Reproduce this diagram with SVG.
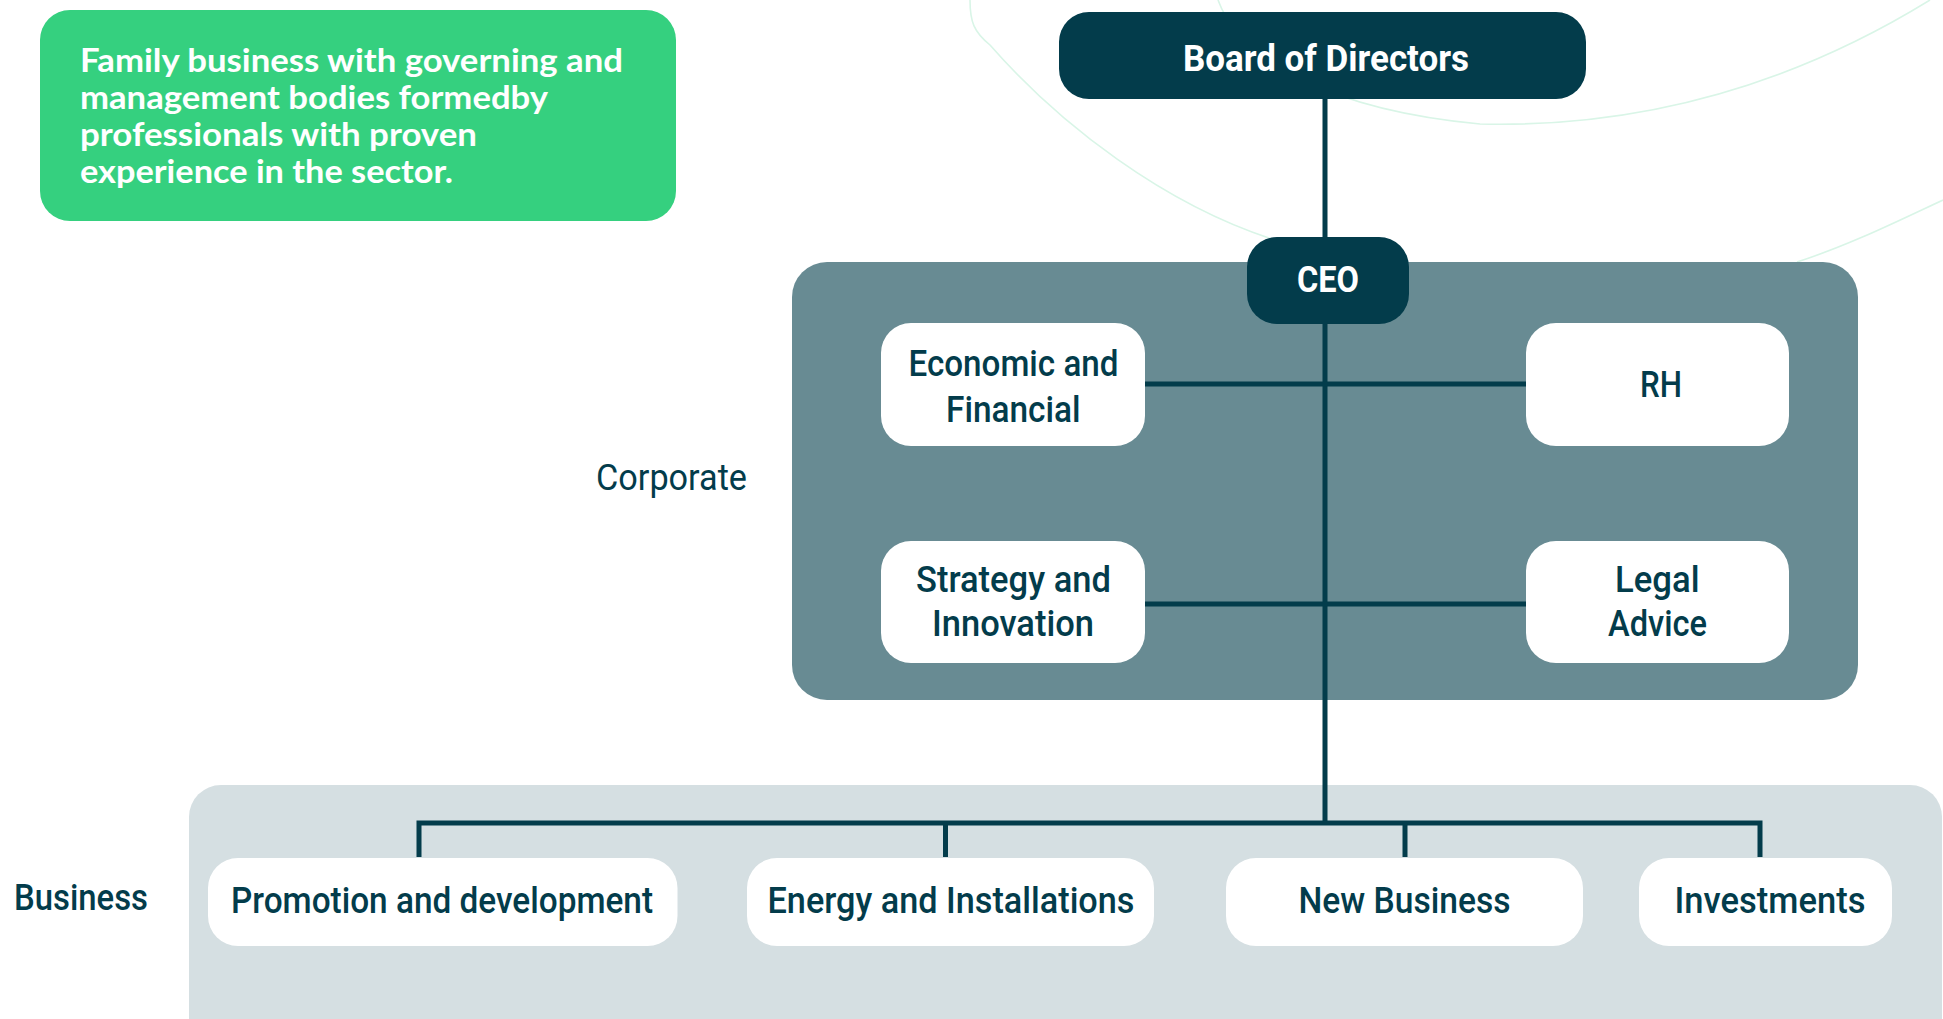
<svg xmlns="http://www.w3.org/2000/svg" width="1943" height="1019" viewBox="0 0 1943 1019">
  <style>
    .deco { fill: none; stroke: #d9f5e7; stroke-width: 1.6; }
    .dark { fill: #033c4b; }
    .white { fill: #ffffff; }
    .conn { fill: none; stroke: #033c4b; stroke-width: 5; stroke-linejoin: miter; stroke-linecap: butt; }
    .intro { font-family: Lato, "Open Sans", sans-serif; font-weight: 700; font-size: 32px; fill: #ffffff; }
    .head { font-family: Roboto, "Liberation Sans", sans-serif; font-weight: 700; font-size: 36px; fill: #ffffff; }
    .lbl { font-family: Roboto, "Liberation Sans", sans-serif; font-weight: 500; font-size: 36px; fill: #033c4b; }
    .side { font-family: Roboto, "Liberation Sans", sans-serif; font-weight: 400; font-size: 36px; fill: #033c4b; }
  </style>
  <rect width="1943" height="1019" fill="#ffffff"/>

  <g id="decoration">
    <path class="deco" d="M970,0 C970,22 974,32 990,45 C1060,125 1165,205 1275,240"/>
    <path class="deco" d="M1218,0 C1240,60 1330,110 1480,124 C1650,128 1800,80 1930,0"/>
    <path class="deco" d="M1943,200 C1900,220 1850,245 1797,262"/>
  </g>

  <g id="intro">
    <rect x="40" y="10" width="636" height="211" rx="30" fill="#35d07f"/>
    <text class="intro" x="80" y="72" textLength="543" lengthAdjust="spacingAndGlyphs">Family business with governing and</text>
    <text class="intro" x="80" y="109" textLength="468" lengthAdjust="spacingAndGlyphs">management bodies formedby</text>
    <text class="intro" x="80" y="146" textLength="397" lengthAdjust="spacingAndGlyphs">professionals with proven</text>
    <text class="intro" x="80" y="183" textLength="373" lengthAdjust="spacingAndGlyphs">experience in the sector.</text>
  </g>

  <g id="panel-corporate">
    <rect x="792" y="262" width="1066" height="438" rx="35" fill="#688b93"/>
  </g>
  <g id="panel-business">
    <rect x="189" y="785" width="1753" height="280" rx="32" fill="#d5dfe2"/>
  </g>

  <g id="label-corporate">
    <text class="side" x="596" y="490" textLength="151" lengthAdjust="spacingAndGlyphs">Corporate</text>
  </g>
  <g id="label-business">
    <text class="lbl" x="14" y="910" font-size="34" textLength="134" lengthAdjust="spacingAndGlyphs">Business</text>
  </g>

  <g id="connectors">
    <line class="conn" x1="1325" y1="99" x2="1325" y2="237"/>
    <line class="conn" x1="1325" y1="324" x2="1325" y2="823"/>
    <line class="conn" x1="1145" y1="384" x2="1526" y2="384"/>
    <line class="conn" x1="1145" y1="604" x2="1526" y2="604"/>
    <path class="conn" d="M419,857 V823 H1760 V857"/>
    <line class="conn" x1="945.5" y1="823" x2="945.5" y2="857"/>
    <line class="conn" x1="1405" y1="823" x2="1405" y2="857"/>
  </g>

  <g id="board">
    <rect class="dark" x="1059" y="12" width="527" height="87" rx="30"/>
    <text class="head" x="1183" y="71" textLength="286" lengthAdjust="spacingAndGlyphs">Board of Directors</text>
  </g>
  <g id="ceo">
    <rect class="dark" x="1247" y="237" width="162" height="87" rx="30"/>
    <text class="head" x="1297" y="292" textLength="62" lengthAdjust="spacingAndGlyphs">CEO</text>
  </g>

  <g id="economic-financial">
    <rect class="white" x="881" y="323" width="264" height="123" rx="30"/>
    <text class="lbl" x="908.5" y="376" textLength="210" lengthAdjust="spacingAndGlyphs">Economic and</text>
    <text class="lbl" x="946" y="421.5" textLength="134.5" lengthAdjust="spacingAndGlyphs">Financial</text>
  </g>
  <g id="rh">
    <rect class="white" x="1526" y="323" width="263" height="123" rx="30"/>
    <text class="lbl" x="1640" y="396.5" textLength="42" lengthAdjust="spacingAndGlyphs">RH</text>
  </g>
  <g id="strategy-innovation">
    <rect class="white" x="881" y="541" width="264" height="122" rx="30"/>
    <text class="lbl" x="916" y="591.5" textLength="195" lengthAdjust="spacingAndGlyphs">Strategy and</text>
    <text class="lbl" x="932" y="636" textLength="162" lengthAdjust="spacingAndGlyphs">Innovation</text>
  </g>
  <g id="legal-advice">
    <rect class="white" x="1526" y="541" width="263" height="122" rx="30"/>
    <text class="lbl" x="1615" y="591.5" textLength="84.5" lengthAdjust="spacingAndGlyphs">Legal</text>
    <text class="lbl" x="1608" y="636" textLength="99" lengthAdjust="spacingAndGlyphs">Advice</text>
  </g>

  <g id="promotion">
    <rect class="white" x="208" y="858" width="469.5" height="88" rx="30"/>
    <text class="lbl" x="231" y="913" textLength="422" lengthAdjust="spacingAndGlyphs">Promotion and development</text>
  </g>
  <g id="energy">
    <rect class="white" x="747" y="858" width="407" height="88" rx="30"/>
    <text class="lbl" x="767.5" y="913" textLength="367" lengthAdjust="spacingAndGlyphs">Energy and Installations</text>
  </g>
  <g id="new-business">
    <rect class="white" x="1226" y="858" width="357" height="88" rx="30"/>
    <text class="lbl" x="1298.5" y="913" textLength="212" lengthAdjust="spacingAndGlyphs">New Business</text>
  </g>
  <g id="investments">
    <rect class="white" x="1639" y="858" width="253" height="88" rx="30"/>
    <text class="lbl" x="1674.5" y="913" textLength="191" lengthAdjust="spacingAndGlyphs">Investments</text>
  </g>
</svg>
